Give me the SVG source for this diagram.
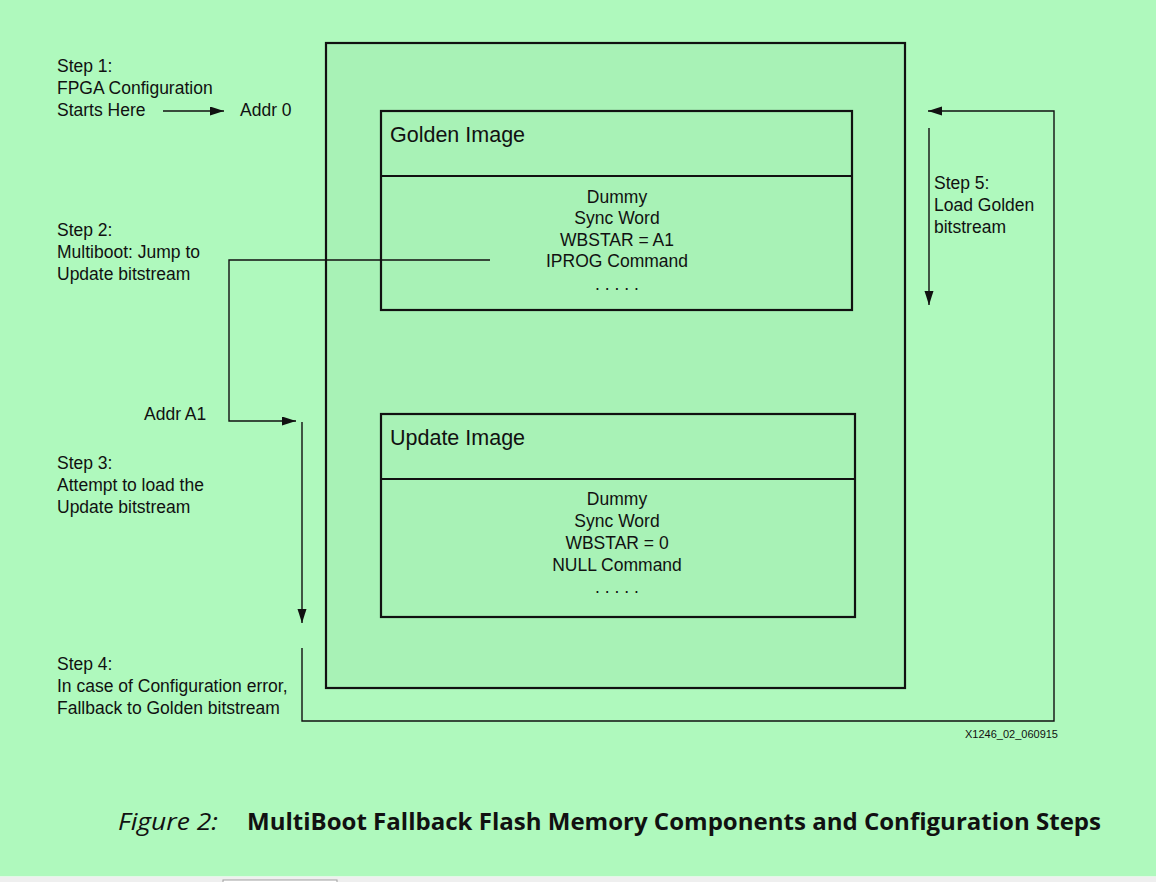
<svg xmlns="http://www.w3.org/2000/svg" width="1156" height="882" viewBox="0 0 1156 882">
<defs>
<style>
.t{font-family:"Liberation Sans",Arial,sans-serif;font-size:17.5px;fill:#111}
.c{text-anchor:middle}
.h{font-size:21.5px}
.box{fill:none;stroke:#111;stroke-width:2.2}
.ln{fill:none;stroke:#111;stroke-width:1.4}
</style>
<marker id="ah" markerUnits="userSpaceOnUse" markerWidth="15" markerHeight="10" refX="14" refY="4.5" orient="auto">
<path d="M0,0 L14,4.5 L0,9 z" fill="#111"/>
</marker>
</defs>
<rect x="0" y="0" width="1156" height="882" fill="#AFF9BD"/>
<rect x="0" y="876" width="1156" height="6" fill="#EFEFEF"/>
<rect x="0" y="876" width="1156" height="1" fill="#E2F8E6"/>
<rect x="223" y="880" width="114" height="4" fill="#FFFFFF" stroke="#A0A0A0" stroke-width="1"/>

<g id="flash">
<rect x="326" y="43" width="579" height="645" fill="#A8F2B6" stroke="#111" stroke-width="2.2"/>
</g>

<g id="golden">
<rect class="box" x="381" y="111" width="471" height="199"/>
<line class="box" x1="381" y1="176" x2="852" y2="176"/>
<text class="t h" x="390" y="142">Golden Image</text>
<text class="t c" x="617" y="203">Dummy</text>
<text class="t c" x="617" y="224">Sync Word</text>
<text class="t c" x="617" y="246">WBSTAR = A1</text>
<text class="t c" x="617" y="267">IPROG Command</text>
<text class="t c" x="617" y="290">. . . . .</text>
</g>

<g id="update">
<rect class="box" x="381" y="414" width="474" height="203"/>
<line class="box" x1="381" y1="479" x2="855" y2="479"/>
<text class="t h" x="390" y="445">Update Image</text>
<text class="t c" x="617" y="505">Dummy</text>
<text class="t c" x="617" y="527">Sync Word</text>
<text class="t c" x="617" y="549">WBSTAR = 0</text>
<text class="t c" x="617" y="571">NULL Command</text>
<text class="t c" x="617" y="593">. . . . .</text>
</g>

<g id="step1">
<text class="t" x="57" y="72">Step 1:</text>
<text class="t" x="57" y="94">FPGA Configuration</text>
<text class="t" x="57" y="116">Starts Here</text>
<text class="t" x="240" y="116">Addr 0</text>
</g>

<g id="step2">
<text class="t" x="57" y="236">Step 2:</text>
<text class="t" x="57" y="258">Multiboot: Jump to</text>
<text class="t" x="57" y="280">Update bitstream</text>
</g>

<g id="addrA1">
<text class="t" x="144" y="420">Addr A1</text>
</g>

<g id="step3">
<text class="t" x="57" y="469">Step 3:</text>
<text class="t" x="57" y="491">Attempt to load the</text>
<text class="t" x="57" y="513">Update bitstream</text>
</g>

<g id="step4">
<text class="t" x="57" y="670">Step 4:</text>
<text class="t" x="57" y="692">In case of Configuration error,</text>
<text class="t" x="57" y="714">Fallback to Golden bitstream</text>
</g>

<g id="step5">
<text class="t" x="934" y="189">Step 5:</text>
<text class="t" x="934" y="211">Load Golden</text>
<text class="t" x="934" y="233">bitstream</text>
</g>

<g id="connectors">
<path class="ln" d="M163,111 H224" marker-end="url(#ah)"/>
<path class="ln" d="M490,260 H229 V421 H296" marker-end="url(#ah)"/>
<path class="ln" d="M302,422 V623" marker-end="url(#ah)"/>
<path class="ln" d="M302,648 V721 H1054 V111 H928" marker-end="url(#ah)"/>
<path class="ln" d="M929,128 V305" marker-end="url(#ah)"/>
</g>

<g id="footer">
<text x="965" y="738" style="font-family:'Liberation Sans',Arial,sans-serif;font-size:11px;fill:#111">X1246_02_060915</text>
<text x="118" y="830" style="font-family:'Open Sans','Noto Sans',sans-serif;font-size:23px;font-style:italic;fill:#111" textLength="100" lengthAdjust="spacingAndGlyphs">Figure 2:</text>
<text x="247" y="830" style="font-family:'Open Sans','Noto Sans',sans-serif;font-size:23px;font-weight:bold;fill:#111" textLength="854" lengthAdjust="spacingAndGlyphs">MultiBoot Fallback Flash Memory Components and Configuration Steps</text>
</g>
</svg>
